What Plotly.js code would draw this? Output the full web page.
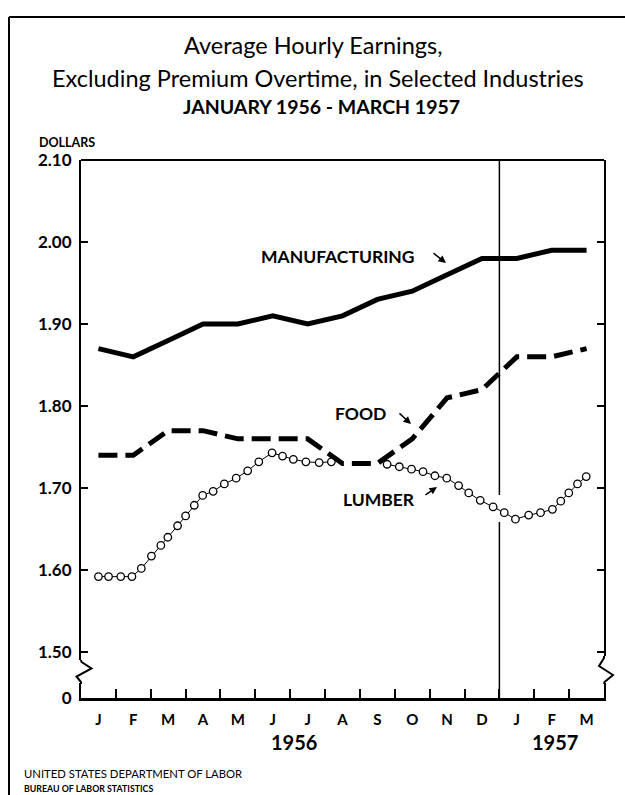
<!DOCTYPE html>
<html>
<head>
<meta charset="utf-8">
<script src="https://cdn.plot.ly/plotly-3.0.1.min.js"></script>
<style>html,body{margin:0;padding:0;background:#fff;}#chart{width:625px;height:795px;}</style>
</head>
<body>
<div id="chart"></div>
<script>
// ---------- data ----------
const monthLabels = ['J','F','M','A','M','J','J','A','S','O','N','D','J','F','M'];
const monthIdx = [0,1,2,3,4,5,6,7,8,9,10,11,12,13,14];
const manufacturing = [1.87,1.86,1.88,1.90,1.90,1.91,1.90,1.91,1.93,1.94,1.96,1.98,1.98,1.99,1.99];
const food = [1.74,1.74,1.77,1.77,1.76,1.76,1.76,1.73,1.73,1.76,1.81,1.82,1.86,1.86,1.87];
// lumber: circle markers (month position, dollars)
const lumberX = [0,0.29,0.64,0.96,1.23,1.52,1.79,1.99,2.27,2.50,2.75,2.99,3.29,3.61,3.95,4.28,4.60,4.98,5.28,5.59,5.95,6.33,6.68,7.5,
                 8.28,8.63,8.98,9.31,9.65,9.99,10.33,10.62,10.95,11.32,11.64,11.96,12.34,12.68,13.02,13.26,13.49,13.74,13.99];
const lumberY = [1.592,1.592,1.592,1.592,1.602,1.617,1.630,1.640,1.654,1.666,1.679,1.691,1.696,1.705,1.712,1.721,1.732,1.743,1.739,1.735,1.732,1.731,1.732,null,
                 1.729,1.726,1.723,1.720,1.715,1.712,1.703,1.694,1.685,1.677,1.670,1.662,1.667,1.670,1.674,1.684,1.694,1.705,1.714];
const yTickVals = [1.444,1.50,1.60,1.70,1.80,1.90,2.00,2.10];
const yTickText = ['0','1.50','1.60','1.70','1.80','1.90','2.00','2.10'];
const yearLabels = ['1956','1957'];
const yearPos = [5.6,13.1];
const seriesNames = ['MANUFACTURING','FOOD','LUMBER'];

// ---------- geometry helpers (page pixels -> paper) ----------
const L=81,R=604,T=160,B=698;
const px=x=>(x-L)/(R-L);
const py=y=>(B-y)/(B-T);

const BOLD='Lato, "Open Sans", sans-serif';
const TXT='Lato, "Open Sans", sans-serif';

const traces = [
  {x:lumberX,y:lumberY,type:'scatter',mode:'lines+markers',connectgaps:false,
   line:{color:'#000',width:1},marker:{symbol:'circle',size:7.5,color:'#fff',line:{color:'#000',width:1.3}},hoverinfo:'skip',name:seriesNames[2]},
  {x:monthIdx,y:food,type:'scatter',mode:'lines',line:{color:'#000',width:5,dash:'19px,8px'},hoverinfo:'skip',name:seriesNames[1]},
  {x:monthIdx,y:manufacturing,type:'scatter',mode:'lines',line:{color:'#000',width:5},hoverinfo:'skip',name:seriesNames[0]}
];

const boundaries = monthIdx.slice(1).map(i=>i-0.5);

const shapes = [
  // outer page frame
  {type:'line',xref:'paper',yref:'paper',x0:px(9),x1:px(625),y0:py(17),y1:py(17),line:{color:'#000',width:2}},
  {type:'line',xref:'paper',yref:'paper',x0:px(9),x1:px(9),y0:py(17),y1:py(795),line:{color:'#000',width:2}},
  // axis break cover + zigzags
  {type:'rect',xref:'paper',yref:'paper',x0:px(74),x1:px(95),y0:py(683),y1:py(660),fillcolor:'#fff',line:{width:0}},
  {type:'rect',xref:'paper',yref:'paper',x0:px(596),x1:px(616),y0:py(683),y1:py(656),fillcolor:'#fff',line:{width:0}},
  {type:'path',xref:'paper',yref:'paper',
   path:`M ${px(81)} ${py(660)} L ${px(81.5)} ${py(662)} L ${px(91.5)} ${py(668.5)} L ${px(76.5)} ${py(676.5)} L ${px(81)} ${py(682)} L ${px(81)} ${py(684)}`,
   line:{color:'#000',width:2}},
  {type:'path',xref:'paper',yref:'paper',
   path:`M ${px(604)} ${py(656)} L ${px(604)} ${py(658)} L ${px(599)} ${py(666)} L ${px(613)} ${py(675)} L ${px(604.5)} ${py(682)} L ${px(604)} ${py(684)}`,
   line:{color:'#000',width:2}},
  // Dec/Jan divider
  {type:'line',xref:'x',yref:'paper',x0:11.5,x1:11.5,y0:0,y1:py(522),line:{color:'#000',width:1.5}},
  {type:'line',xref:'x',yref:'paper',x0:11.5,x1:11.5,y0:py(495),y1:1,line:{color:'#000',width:1.5}},
  // top frame line of plot area
  {type:'line',xref:'paper',yref:'paper',x0:0,x1:1,y0:1,y1:1,line:{color:'#000',width:2}}
];

const ann = [];
function addText(text,x,y,size,opts){
  ann.push(Object.assign({text:text,xref:'paper',yref:'paper',x:px(x),y:py(y),showarrow:false,
    xanchor:'center',yanchor:'middle',font:{family:TXT,size:size,color:'#000'}},opts||{}));
}
function addBold(text,x,y,size,opts){
  addText('<b>'+text+'</b>',x,y,size,Object.assign({font:{family:BOLD,size:size,color:'#000'}},opts||{}));
}
function addArrow(tx,ty,hx,hy){
  ann.push({text:'',xref:'paper',yref:'paper',x:px(hx),y:py(hy),ax:tx-hx,ay:ty-hy,showarrow:true,
    arrowhead:2,arrowsize:1,arrowwidth:1.5,arrowcolor:'#000',standoff:0,startstandoff:0});
}
addText('Average Hourly Earnings,',313,45,23.5);
addText('Excluding Premium Overtime, in Selected Industries',318,78,23.5);
addBold('JANUARY 1956 - MARCH 1957',321,107,19.5);
addBold('DOLLARS',37,143,12.5,{xanchor:'left'});
addBold(seriesNames[0],338,256,17.5);
addBold(seriesNames[1],360,413,17.5);
addBold(seriesNames[2],379,499,17.5);
addArrow(432,252,446,263);
addArrow(398,412,411,424);
addArrow(424,496,437,487);
yearLabels.forEach((t,i)=>ann.push({text:'<b>'+t+'</b>',xref:'x',yref:'paper',x:yearPos[i],y:py(742),showarrow:false,
  xanchor:'center',yanchor:'middle',font:{family:BOLD,size:20,color:'#000'}}));
addText('UNITED STATES DEPARTMENT OF LABOR',22,773,11.3,{xanchor:'left'});
addBold('BUREAU OF LABOR STATISTICS',22,788,8.8,{xanchor:'left'});

const layout = {
  width:625,height:795,margin:{l:L,r:625-R,t:T,b:795-B,pad:0},
  paper_bgcolor:'#fff',plot_bgcolor:'#fff',showlegend:false,
  xaxis:{range:[-0.5,14.5],tickmode:'array',tickvals:monthIdx,ticktext:monthLabels,ticks:'',
    showgrid:false,zeroline:false,showline:true,linecolor:'#000',linewidth:2.5,mirror:false,
    tickfont:{family:BOLD,size:15,color:'#000',weight:'bold'},ticklabelstandoff:6,
    minor:{tickmode:'array',tickvals:boundaries,ticks:'inside',ticklen:9,tickwidth:2,tickcolor:'#000',showgrid:false}},
  yaxis:{range:[1.444,2.10],tickmode:'array',tickvals:yTickVals,ticktext:yTickText,ticks:'inside',ticklen:7,tickwidth:1.5,tickcolor:'#000',
    showgrid:false,zeroline:false,showline:true,linecolor:'#000',linewidth:2,mirror:'ticks',
    tickfont:{family:BOLD,size:17,color:'#000',weight:'bold'},ticklabelstandoff:4},
  shapes:shapes,annotations:ann
};

Plotly.newPlot('chart',traces,layout,{staticPlot:true});
</script>
</body>
</html>
